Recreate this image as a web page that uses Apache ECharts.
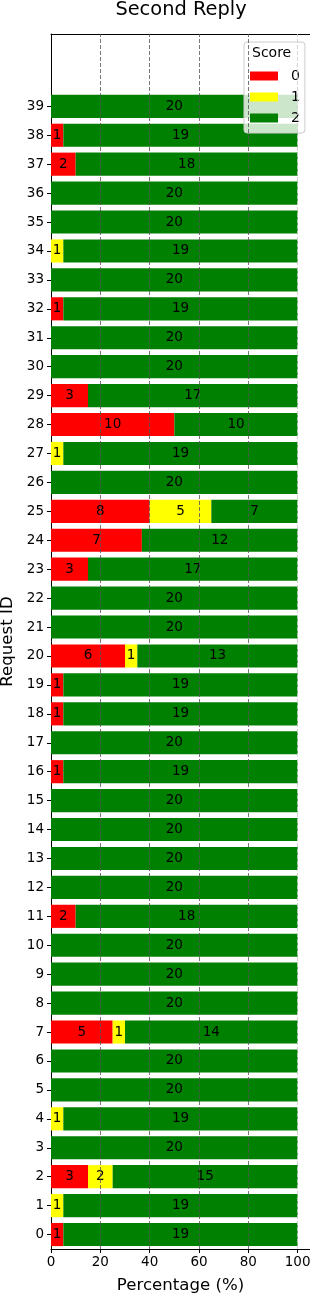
<!DOCTYPE html>
<html>
<head>
<meta charset="utf-8">
<script src="https://cdn.jsdelivr.net/npm/echarts@6/dist/echarts.min.js"></script>
<style>html,body{margin:0;padding:0;background:#fff}#c{width:310px;height:1297px}</style>
</head>
<body>
<div id="c"></div>
<script>
// Request IDs 0..39 (bottom to top)
var requestIds = [];
for (var i = 0; i < 40; i++) requestIds.push(String(i));
// counts per score, index = request id
var score0 = [1,0,3,0,0,0,0,5,0,0,0,2,0,0,0,0,1,0,1,1,6,0,0,3,7,8,0,0,10,3,0,0,1,0,0,0,0,2,1,0];
var score1 = [0,1,2,0,1,0,0,1,0,0,0,0,0,0,0,0,0,0,0,0,1,0,0,0,0,5,0,1,0,0,0,0,0,0,1,0,0,0,0,0];
var score2 = [19,19,15,20,19,20,20,14,20,20,20,18,20,20,20,20,19,20,19,19,13,20,20,17,12,7,20,19,10,17,20,20,19,20,19,20,20,18,19,20];
var scoreNames = ['0','1','2'];
var xTicks = [0,20,40,60,80,100];

var counts = [score0, score1, score2];
var colors = ['#ff0000', '#ffff00', '#008000'];
var cats = requestIds.concat(['', '']);
var FONT = 'DejaVu Sans';

var series = counts.map(function (arr, s) {
  var data = arr.map(function (v, i) {
    var tot = score0[i] + score1[i] + score2[i];
    return { value: v / tot * 100, count: v };
  });
  return {
    name: scoreNames[s],
    type: 'bar',
    stack: 'total',
    barCategoryGap: '20%',
    itemStyle: { color: colors[s] },
    data: data,
    label: {
      show: true,
      position: 'inside',
      color: '#000',
      fontFamily: FONT,
      fontSize: 13.5,
      formatter: function (p) { return p.data.count > 0 ? String(p.data.count) : ''; }
    }
  };
});
series[2].markLine = {
  silent: true, symbol: 'none', label: { show: false }, animation: false, z: 10,
  data: xTicks.slice(1).map(function (t) {
    return { xAxis: t, lineStyle: { color: t === 100 ? '#cccccc' : '#555555', width: 0.8, type: [4, 2] } };
  })
};

var chart = echarts.init(document.getElementById('c'), null, { renderer: 'canvas' });
chart.setOption({
  animation: false,
  backgroundColor: '#fff',
  title: [
    { text: 'Second Reply', left: 181, top: 0, textAlign: 'center', padding: 0,
      textStyle: { fontFamily: FONT, fontSize: 19.4, fontWeight: 'normal', color: '#000' } },
    { text: 'Score', left: 252, top: 46, padding: 0, z: 10,
      textStyle: { fontFamily: FONT, fontSize: 14, fontWeight: 'normal', color: '#000' } }
  ],
  legend: {
    orient: 'vertical', left: 244, top: 42,
    padding: [27, 5, 8, 6], itemGap: 7, itemWidth: 28, itemHeight: 9,
    backgroundColor: 'rgba(255,255,255,0.8)', borderColor: '#cccccc', borderWidth: 1, borderRadius: 3,
    icon: 'rect', data: scoreNames,
    textStyle: { fontFamily: FONT, fontSize: 14, color: '#000', padding: [0, 0, 0, 8] }
  },
  grid: { left: 51, top: 34, width: 259, height: 1215, containLabel: false, outerBoundsMode: 'none' },
  xAxis: [{
    type: 'value', min: 0, max: 105, interval: 20, position: 'bottom',
    name: 'Percentage (%)', nameLocation: 'middle', nameGap: 28,
    nameTextStyle: { fontFamily: FONT, fontSize: 16.6, color: '#000' },
    axisLine: { show: true, lineStyle: { color: '#000', width: 1 } },
    axisTick: { show: true, length: 4, lineStyle: { color: '#000' } },
    axisLabel: { fontFamily: FONT, fontSize: 13.5, color: '#000', margin: 6, showMaxLabel: false,
      formatter: function (v) { return xTicks.indexOf(v) >= 0 ? String(v) : ''; } },
    splitLine: { show: false }
  }, {
    type: 'value', min: 0, max: 105, position: 'top',
    axisLine: { show: true, lineStyle: { color: '#000', width: 1 } },
    axisTick: { show: false }, axisLabel: { show: false }, splitLine: { show: false }
  }],
  yAxis: {
    type: 'category', data: cats,
    name: 'Request ID', nameLocation: 'middle', nameGap: 34,
    nameTextStyle: { fontFamily: FONT, fontSize: 16.6, color: '#000' },
    axisLine: { show: true, lineStyle: { color: '#000', width: 1 } },
    axisTick: { show: true, length: 4, alignWithLabel: true, lineStyle: { color: '#000' },
      interval: function (idx, val) { return val !== ''; } },
    axisLabel: { interval: 0, fontFamily: FONT, fontSize: 13.5, color: '#000', margin: 7 },
    splitLine: { show: false }
  },
  series: series
});
</script>
</body>
</html>
